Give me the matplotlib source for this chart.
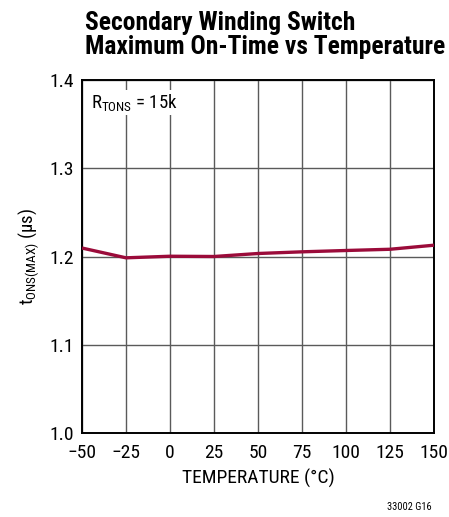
import matplotlib
matplotlib.use("Agg")
import matplotlib.pyplot as plt

# data
temp = [-50, -25, 0, 25, 50, 75, 100, 125, 150]
t_ons = [1.2096, 1.1985, 1.2003, 1.2000, 1.2034, 1.2053, 1.2068, 1.2082, 1.2128]

xticks = [-50, -25, 0, 25, 50, 75, 100, 125, 150]
xticklabels = ["\u221250", "\u221225", "0", "25", "50", "75", "100", "125", "150"]
yticks = [1.0, 1.1, 1.2, 1.3, 1.4]

LINE = "#9b0b3a"
GRID = "#5a5a5a"
FONT = ["Roboto Condensed", "DejaVu Sans"]

plt.rcParams.update({
    "font.family": FONT,
    "mathtext.fontset": "custom",
    "mathtext.rm": "Roboto Condensed",
})

fig = plt.figure(figsize=(4.49, 5.17), dpi=100)
ax = fig.add_axes([82 / 449, 1 - 433 / 517, 352 / 449, 353 / 517])

ax.plot(temp, t_ons, color=LINE, lw=2.4, solid_capstyle="butt", zorder=3)

ax.set_xlim(-50, 150)
ax.set_ylim(1.0, 1.4)
ax.set_xticks(xticks)
ax.set_xticklabels(xticklabels)
ax.set_yticks(yticks)
ax.set_yticklabels([f"{v:.1f}" for v in yticks])
ax.grid(True, color=GRID, lw=1.0)
ax.tick_params(axis="x", length=0, labelsize=14, pad=8)
ax.tick_params(axis="y", length=0, labelsize=14, pad=6)
for s in ax.spines.values():
    s.set_linewidth(1.4)
    s.set_color("black")

ax.set_xlabel("TEMPERATURE (°C)", fontsize=14, labelpad=5)
ax.set_ylabel(r"$\mathregular{t_{ONS(MAX)}}$ (µs)", fontsize=13.5, labelpad=6)

ax.text(0.025, 0.965, r"$\mathregular{R_{TONS}}$ = 15k", transform=ax.transAxes,
        ha="left", va="top", fontsize=13.5, zorder=4,
        bbox=dict(fc="white", ec="none", pad=1.5))

fig.text(85 / 449, 1 - 11 / 517, "Secondary Winding Switch\nMaximum On-Time vs Temperature",
         ha="left", va="top", fontsize=18.4, fontweight="bold", linespacing=1.0)
fig.text(432 / 449, 1 - 510 / 517, "33002 G16", ha="right", va="baseline", fontsize=7.5)

fig.savefig("out.png", dpi=100)
